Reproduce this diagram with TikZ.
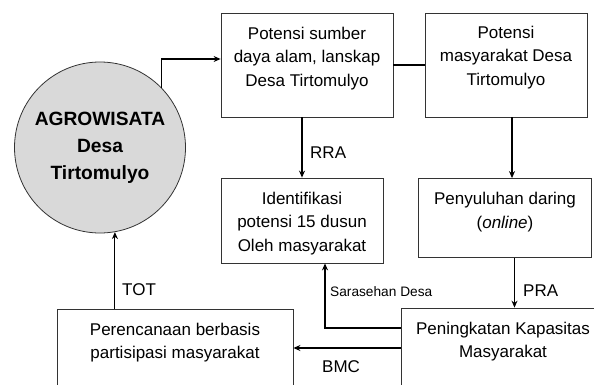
\documentclass[tikz,border=0pt]{standalone}
\usepackage{fontspec}
\setmainfont{Liberation Sans}
\usetikzlibrary{calc,arrows.meta}

\tikzset{
	box/.style={draw=black!80, line width=0.8pt, rectangle, inner sep=0pt},
	boxtext/.style={anchor=north, align=center, inner sep=0pt,
		font=\fontsize{17}{23.5}\selectfont},
	arr/.style={line width=1.1pt, -{Stealth[length=7pt,width=6pt]}},
	lbl/.style={anchor=west, inner sep=0pt, font=\fontsize{17}{20}\selectfont},
}

\begin{document}
\begin{tikzpicture}[x=1pt, y=-1pt]

% frame %{{{1

	\useasboundingbox (0,0) rectangle (594,385);

% circle %{{{1

	\node[circle, draw=black!80, fill=black!15, line width=0.8pt,
		minimum size=171pt, inner sep=0pt, align=center,
		font=\bfseries\fontsize{19.2}{27}\selectfont]
		(agro) at (100,147.5) {AGROWISATA\\Desa\\Tirtomulyo};

% boxes %{{{1

	\node[box, minimum width=172pt, minimum height=104pt] (sda) at (307,65) {};
	\node[box, minimum width=162pt, minimum height=104pt] (pmd) at (506,65) {};
	\node[box, minimum width=162pt, minimum height=85pt] (idf) at (302,220.5) {};
	\node[box, minimum width=173pt, minimum height=79pt] (pyl) at (505,218) {};
	\node[box, minimum width=204pt, minimum height=80pt] (pkm) at (503,348) {};
	\node[box, minimum width=236pt, minimum height=78pt] (prc) at (175,348) {};

% boxes texts %{{{1

	\node[boxtext] (sdat) at ([yshift=-14pt]sda.north)
		{Potensi sumber\\daya alam, lanskap\\Desa Tirtomulyo};
	\node[boxtext] (pmdt) at ([yshift=-13pt]pmd.north)
		{Potensi\\masyarakat Desa\\Tirtomulyo};
	\node[boxtext] (idft) at ([yshift=-14pt]idf.north)
		{Identifikasi\\potensi 15 dusun\\Oleh masyarakat};
	\node[boxtext] (pylt) at ([yshift=-14pt]pyl.north)
		{Penyuluhan daring\\(\textit{online})};
	\node[boxtext] (pkmt) at ([yshift=-14pt]pkm.north)
		{Peningkatan Kapasitas\\Masyarakat};
	\node[boxtext] (prct) at ([yshift=-14pt]prc.north)
		{Perencanaan berbasis\\partisipasi masyarakat};

% connectors %{{{1

	\draw[arr] (agro.44) |- ([yshift=6pt]sda.west);
	\draw[line width=1.1pt] (sda.east) -- (pmd.west);

	\draw[arr] (sda.south -| idf.north) -- (idf.north);
	\draw[arr] ([xshift=6pt]pmd.south) -- ([xshift=6pt]pmd.south |- pyl.north);
	\draw[arr] ([xshift=9.5pt]pyl.south) -- ([xshift=9.5pt]pyl.south |- pkm.north);

	\draw[arr] ([yshift=20pt]pkm.west) -| ([xshift=23pt]idf.south);
	\draw[arr] (pkm.west) -- (pkm.west -| prc.east);
	\draw[arr] (agro.-80 |- prc.north) -- (agro.-80);

% connectors labels %{{{1

	\node[lbl] (rra) at (310,153) {RRA};
	\node[lbl] (pra) at (523,291) {PRA};
	\node[lbl] (tot) at (122,290) {TOT};
	\node[lbl] (bmc) at (322,367) {BMC};
	\node[lbl, font=\fontsize{13.7}{16}\selectfont] (srs) at (330,292) {Sarasehan Desa};

% closing %{{{1

\end{tikzpicture}
\end{document}
